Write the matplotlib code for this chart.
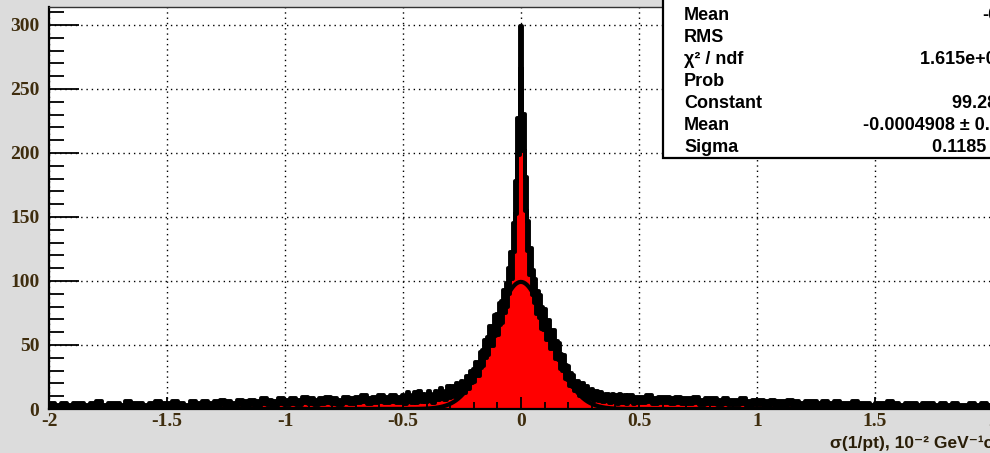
import numpy as np
import matplotlib.pyplot as plt
from matplotlib.patches import Rectangle

# counts, 0.01 wide bins centred on -0.50 ... 0.50
core_counts = [
    8, 6, 10, 8, 7, 10, 7, 11, 8, 9,
    8, 11, 9, 7, 11, 10, 13, 11, 10, 14,
    12, 14, 13, 16, 15, 18, 17, 21, 20, 25,
    26, 31, 31, 38, 40, 47, 49, 57, 57, 65,
    66, 74, 76, 84, 89, 100, 112, 134, 165, 213,
    282,
    216, 168, 135, 115, 99, 92, 83, 80, 71, 70,
    62, 62, 54, 54, 46, 45, 37, 36, 29, 28,
    23, 22, 18, 18, 14, 16, 13, 14, 11, 12,
    9, 11, 9, 10, 8, 9, 9, 7, 9, 8,
    6, 9, 7, 8, 6, 8, 8, 6, 7, 7,
]
# coarser bins from -2 to -0.505 and from 0.505 to 2
left_tail = [
    3, 2, 3, 2, 3, 3, 2, 3, 4, 2,
    3, 3, 2, 4, 3, 3, 2, 3, 4, 3,
    3, 4, 3, 2, 4, 3, 4, 3, 4, 5,
    4, 3, 5, 4, 5, 4, 6, 5, 4, 6,
    5, 6, 5, 7, 6, 5, 6, 7, 6, 5,
    7, 6, 7, 8, 6, 7, 8, 7, 8, 7,
]
right_tail = [
    7, 8, 6, 7, 7, 6, 7, 6, 6, 7,
    5, 6, 6, 5, 6, 5, 5, 6, 4, 5,
    5, 4, 5, 4, 4, 5, 4, 3, 4, 4,
    3, 4, 3, 4, 3, 3, 4, 3, 3, 2,
    3, 3, 4, 3, 2, 3, 3, 2, 3, 3,
    2, 3, 2, 3, 2, 2, 3, 2, 3, 2,
]

fit_constant = 99.28
fit_mean = -0.0004908
fit_sigma = 0.1185

x_ticks = [-2, -1.5, -1, -0.5, 0, 0.5, 1, 1.5, 2]
x_tick_labels = ["-2", "-1.5", "-1", "-0.5", "0", "0.5", "1", "1.5", "2"]
y_ticks = [0, 50, 100, 150, 200, 250, 300]

stat_names = ["Mean", "RMS", "χ² / ndf", "Prob", "Constant", "Mean", "Sigma"]
stat_values = ["-0.001452", "0.2631", "1.615e+03 / 1997", "1",
               "99.28 ± 1.27", "-0.0004908 ± 0.0019", "0.1185 ± 0.0011"]
stat_value_x = [982, 1000, 920, 1000, 952, 863, 932]
stat_rows_y = [15, 37, 59, 81, 103, 126, 148]

x_title = "σ(1/pt), 10⁻² GeV⁻¹c"

W, H = 990, 453
label_color = "#3f2d0e"
sans = ["Liberation Sans", "DejaVu Sans"]


def fx(px):
    return px / W


def fy(py):
    return 1 - py / H


edges = np.concatenate([np.linspace(-2.0, -0.505, 61),
                        np.linspace(-0.495, 0.505, 101),
                        np.linspace(0.505, 2.0, 61)[1:]])
counts = np.array(left_tail + core_counts + right_tail, dtype=float)
errors = np.sqrt(counts)
lower = np.append(counts - errors, (counts - errors)[-1])
upper = np.append(counts + errors, (counts + errors)[-1])

fig = plt.figure(figsize=(W / 100, H / 100), dpi=100)
fig.patch.set_facecolor("#dcdcdc")

ax = fig.add_axes([fx(49), fy(409), fx(944), 402 / H])
ax.set_facecolor("white")
ax.set_xlim(-2, 2)
ax.set_ylim(0, 314)

# grid behind the data
for xt in x_ticks:
    ax.axvline(xt, color="black", lw=1.0, ls=(0, (1, 2.8)), zorder=0.5)
for yt in y_ticks:
    ax.axhline(yt, color="black", lw=1.0, ls=(0, (1, 2.8)), zorder=0.5)

ax.stairs(counts, edges, fill=True, color="red", zorder=1)
# thick error bars of the same histogram, drawn as one band
ax.fill_between(edges, lower, upper, step="post", facecolor="black",
                edgecolor="black", linewidth=2.8, zorder=1.5)

xs = np.linspace(-2, 2, 1200)
gauss = fit_constant * np.exp(-0.5 * ((xs - fit_mean) / fit_sigma) ** 2)
ax.plot(xs, gauss, color="black", lw=3.0, zorder=2)

ax.set_axisbelow(False)
ax.set_xticks(x_ticks)
ax.set_xticklabels(x_tick_labels)
ax.set_yticks(y_ticks)
ax.set_xticks(np.arange(-2, 2.01, 0.1), minor=True)
ax.set_yticks(np.arange(0, 311, 10), minor=True)
ax.tick_params(axis="y", which="major", direction="in", length=21.6, width=1.3,
               pad=7, right=False)
ax.tick_params(axis="y", which="minor", direction="in", length=10.8, width=1.3,
               right=False)
ax.tick_params(axis="x", which="major", direction="in", length=8.6, width=1.3,
               pad=3, top=False)
ax.tick_params(axis="x", which="minor", direction="in", length=5, width=1.3,
               top=False)
for lab in ax.get_xticklabels() + ax.get_yticklabels():
    lab.set_fontfamily("Liberation Serif")
    lab.set_fontweight("bold")
    lab.set_fontsize(14)
    lab.set_color(label_color)

ax.spines["left"].set_linewidth(1.6)
ax.spines["bottom"].set_linewidth(1.6)
ax.spines["top"].set_linewidth(1.0)
ax.spines["top"].set_color("#333333")
ax.spines["right"].set_visible(False)

fig.text(fx(830), fy(448), x_title, family=sans,
         fontweight="bold", fontsize=12.5, color="#2a1e08", va="baseline")

# statistics box, running off the right edge
fig.add_artist(Rectangle((fx(663), fy(158)), 0.5, 0.5, transform=fig.transFigure,
                         facecolor="white", edgecolor="black", lw=1.6, zorder=5))
for name, val, vx, ry in zip(stat_names, stat_values, stat_value_x, stat_rows_y):
    fig.text(fx(684), fy(ry), name, family=sans,
             fontweight="bold", fontsize=13, va="center", zorder=6)
    fig.text(fx(vx), fy(ry), val, family=sans,
             fontweight="bold", fontsize=13, va="center", zorder=6)

fig.savefig("out.png", dpi=100, facecolor=fig.get_facecolor())
